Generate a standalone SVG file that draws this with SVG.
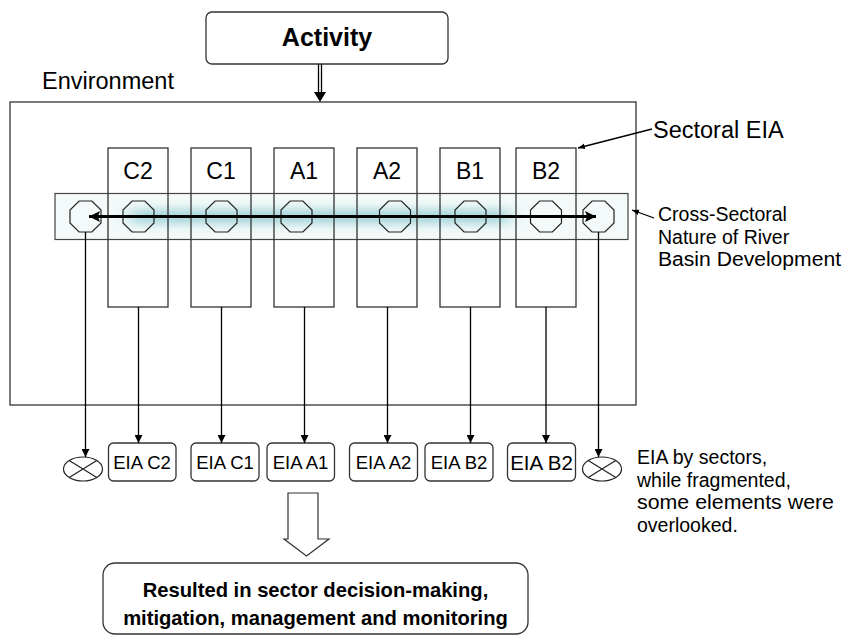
<svg xmlns="http://www.w3.org/2000/svg" width="843" height="637" viewBox="0 0 843 637">
<style>
.box{fill:#fff;stroke:#333;stroke-width:1.3}
.sec{fill:none;stroke:#333;stroke-width:1.3}
.ln{stroke:#000;stroke-width:1.3;fill:none}
.t{font-family:"Liberation Sans",Arial,sans-serif;fill:#000}
.b{font-weight:bold}
.oct{fill:none;stroke:#222;stroke-width:1.2}
</style>
<defs>
<marker id="ah" viewBox="0 0 10 10" refX="10" refY="5" markerWidth="8" markerHeight="8" markerUnits="userSpaceOnUse" orient="auto"><path d="M0,0 L10,5 L0,10 z" fill="#000"/></marker>
<marker id="ahs" viewBox="0 0 10 10" refX="10" refY="5" markerWidth="7" markerHeight="7" markerUnits="userSpaceOnUse" orient="auto"><path d="M0,1 L10,5 L0,9 z" fill="#000"/></marker>
<marker id="big" viewBox="0 0 10 10" refX="10" refY="5" markerWidth="13" markerHeight="11" markerUnits="userSpaceOnUse" orient="auto-start-reverse"><path d="M0,0 L10,5 L0,10 L2,5 z" fill="#000"/></marker>
<polygon id="oct" points="-6.4,-15.5 6.4,-15.5 15.5,-6.4 15.5,6.4 6.4,15.5 -6.4,15.5 -15.5,6.4 -15.5,-6.4"/>
<g id="xc"><ellipse cx="0" cy="0" rx="19.5" ry="12" fill="#fff" stroke="#222" stroke-width="1.2"/><path d="M-13.8,-8.5 L13.8,8.5 M-13.8,8.5 L13.8,-8.5" stroke="#222" stroke-width="1.2"/></g>
<filter id="blur" filterUnits="userSpaceOnUse" x="56" y="194" width="572" height="45"><feGaussianBlur stdDeviation="9 5"/></filter>
</defs>

<g id="activity">
<rect x="206" y="12" width="242" height="52" rx="6" class="box"/>
<text x="327" y="46" class="t b" font-size="25" text-anchor="middle">Activity</text>
</g>

<g id="environment">
<text x="42" y="89" class="t" font-size="23.5">Environment</text>
<rect x="10" y="102" width="626" height="303" fill="#fff" stroke="#333" stroke-width="1.3"/>
</g>

<g id="band">
<rect x="55" y="193.5" width="573" height="46" fill="#f4fafa" stroke="#444" stroke-width="1.2"/>
<rect x="130" y="209" width="380" height="15" fill="#8ccacf" filter="url(#blur)" opacity="0.75"/>
</g>

<g id="sectors">
<g id="sC2"><rect x="108" y="148" width="60" height="159" class="sec"/><text x="138" y="179" class="t" font-size="23" text-anchor="middle">C2</text></g>
<g id="sC1"><rect x="191" y="148" width="60" height="159" class="sec"/><text x="221" y="179" class="t" font-size="23" text-anchor="middle">C1</text></g>
<g id="sA1"><rect x="274" y="148" width="60" height="159" class="sec"/><text x="304" y="179" class="t" font-size="23" text-anchor="middle">A1</text></g>
<g id="sA2"><rect x="357" y="148" width="60" height="159" class="sec"/><text x="387" y="179" class="t" font-size="23" text-anchor="middle">A2</text></g>
<g id="sB1"><rect x="440" y="148" width="60" height="159" class="sec"/><text x="470" y="179" class="t" font-size="23" text-anchor="middle">B1</text></g>
<g id="sB2"><rect x="516" y="148" width="60" height="159" class="sec"/><text x="546" y="179" class="t" font-size="23" text-anchor="middle">B2</text></g>
</g>

<g id="octagons" class="oct">
<use href="#oct" x="85.5" y="216.5"/>
<use href="#oct" x="138.5" y="216.5"/>
<use href="#oct" x="221.5" y="216.5"/>
<use href="#oct" x="296.5" y="216.5"/>
<use href="#oct" x="395" y="216.5"/>
<use href="#oct" x="470.5" y="216.5"/>
<use href="#oct" x="546" y="216.5"/>
<use href="#oct" x="598.5" y="216.5"/>
</g>

<g id="eia-boxes">
<g id="eC2"><rect x="108.5" y="443" width="67.5" height="38" rx="5" class="box"/><text x="142" y="468.5" class="t" font-size="18.5" text-anchor="middle">EIA C2</text></g>
<g id="eC1"><rect x="191" y="443" width="68" height="38" rx="5" class="box"/><text x="225" y="468.5" class="t" font-size="18.5" text-anchor="middle">EIA C1</text></g>
<g id="eA1"><rect x="267" y="443" width="67.5" height="38" rx="5" class="box"/><text x="300.5" y="468.5" class="t" font-size="18.5" text-anchor="middle">EIA A1</text></g>
<g id="eA2"><rect x="349.5" y="443" width="68" height="38" rx="5" class="box"/><text x="383.5" y="468.5" class="t" font-size="18.5" text-anchor="middle">EIA A2</text></g>
<g id="eB2a"><rect x="425" y="443" width="68" height="38" rx="5" class="box"/><text x="459" y="468.5" class="t" font-size="18.5" text-anchor="middle">EIA B2</text></g>
<g id="eB2b"><rect x="507.5" y="443" width="68" height="38" rx="5" class="box"/><text x="541.5" y="469.5" class="t" font-size="20.5" text-anchor="middle">EIA B2</text></g>
</g>

<g id="crossed">
<use href="#xc" x="83" y="469"/>
<use href="#xc" x="602" y="469"/>
</g>

<g id="connectors">
<line x1="318.5" y1="64" x2="318.5" y2="93" class="ln"/>
<line x1="321.5" y1="64" x2="321.5" y2="93" class="ln"/>
<path d="M314,92 L326,92 L320,102 z" fill="#000"/>
<line x1="89" y1="216.5" x2="596" y2="216.5" stroke="#000" stroke-width="3.2" marker-start="url(#big)" marker-end="url(#big)"/>
<line x1="138.5" y1="307" x2="138.5" y2="443" class="ln" marker-end="url(#ah)"/>
<line x1="221.5" y1="307" x2="221.5" y2="443" class="ln" marker-end="url(#ah)"/>
<line x1="304.5" y1="307" x2="304.5" y2="443" class="ln" marker-end="url(#ah)"/>
<line x1="387.5" y1="307" x2="387.5" y2="443" class="ln" marker-end="url(#ah)"/>
<line x1="470.5" y1="307" x2="470.5" y2="443" class="ln" marker-end="url(#ah)"/>
<line x1="546" y1="307" x2="546" y2="443" class="ln" marker-end="url(#ah)"/>
<line x1="85.5" y1="232" x2="85.5" y2="457" class="ln" marker-end="url(#ah)"/>
<line x1="598.5" y1="232" x2="598.5" y2="457" class="ln" marker-end="url(#ah)"/>
<line x1="652" y1="129" x2="578" y2="148" class="ln" marker-end="url(#ahs)"/>
<line x1="654" y1="218" x2="632" y2="210" class="ln" marker-end="url(#ahs)"/>
<path d="M288,493 L318,493 L318,539 L329,539 L306.5,556 L284,539 L288,539 z" fill="#fff" stroke="#333" stroke-width="1.2"/>
</g>

<g id="labels">
<text x="653" y="138" class="t" font-size="23.5">Sectoral EIA</text>
<text class="t" font-size="19.5"><tspan x="658" y="221">Cross-Sectoral</tspan><tspan x="658" y="243.5">Nature of River</tspan><tspan x="658" y="266" textLength="183" lengthAdjust="spacingAndGlyphs">Basin Development</tspan></text>
<text class="t" font-size="19.5"><tspan x="637" y="464">EIA by sectors,</tspan><tspan x="637" y="486.5">while fragmented,</tspan><tspan x="637" y="509" textLength="197" lengthAdjust="spacingAndGlyphs">some elements were</tspan><tspan x="637" y="531.5">overlooked.</tspan></text>
</g>

<g id="result">
<rect x="103" y="563" width="425" height="71" rx="12" class="box"/>
<text x="315.5" y="597" class="t b" font-size="20.2" text-anchor="middle">Resulted in sector decision-making,</text>
<text x="315.5" y="625" class="t b" font-size="20.2" text-anchor="middle">mitigation, management and monitoring</text>
</g>
</svg>
